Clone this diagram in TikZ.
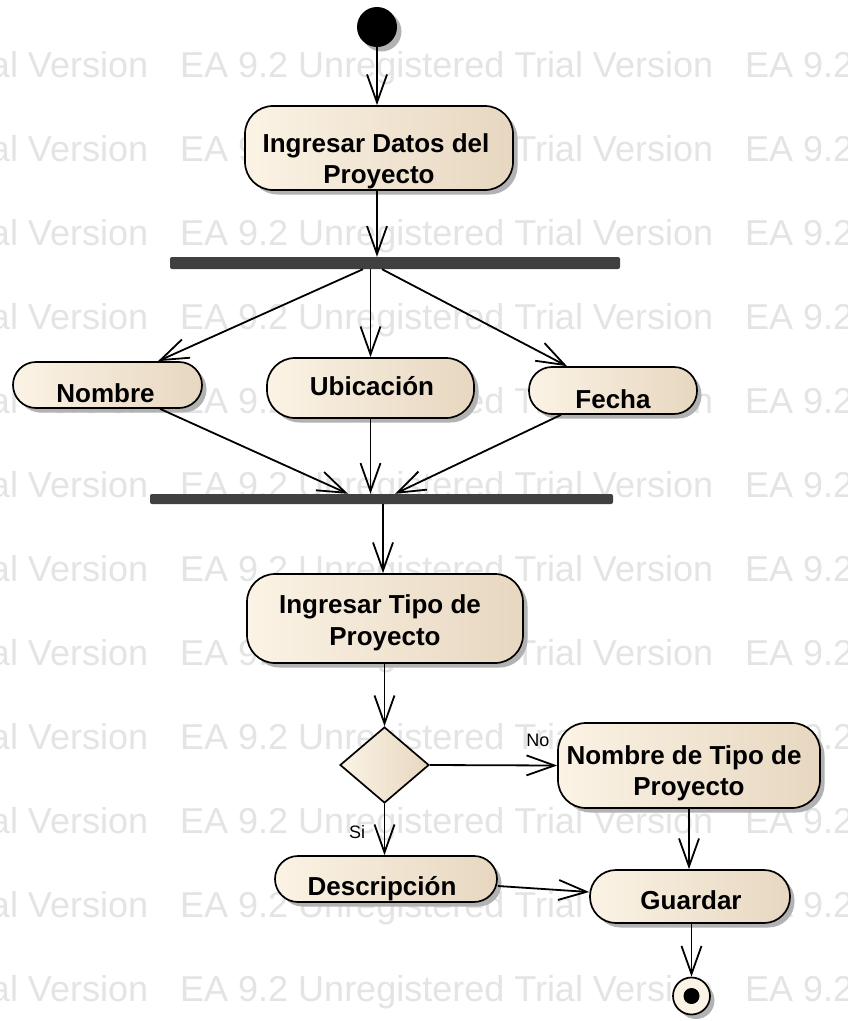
\documentclass[tikz,border=0pt]{standalone}
\usepackage{fontspec}
\setmainfont{Liberation Sans}
\usetikzlibrary{arrows.meta,shapes.geometric,shadows,calc}

\definecolor{wm}{RGB}{228,228,228}
\definecolor{eaL}{RGB}{251,243,229}
\definecolor{eaR}{RGB}{231,215,192}
\definecolor{barc}{RGB}{64,64,64}
\definecolor{shad}{RGB}{178,178,178}

\tikzset{
  eashadow/.style={drop shadow={shadow xshift=4.5pt, shadow yshift=-4.5pt, fill=shad, opacity=1}},
  act/.style={rectangle, draw=black, line width=1.7pt, left color=eaL, right color=eaR,
              inner sep=0pt, eashadow},
  bar/.style={rectangle, fill=barc, rounded corners=2pt, inner sep=0pt},
  lbl/.style={font=\fontsize{26}{31}\selectfont\bfseries, inner sep=0pt, anchor=base},
  guard/.style={font=\fontsize{18}{20}\selectfont, inner sep=0pt, anchor=base},
  wmtext/.style={font=\fontsize{36}{36}\selectfont, text=wm, inner sep=0pt, anchor=base west},
  flow/.style={line width=1.8pt, -{Straight Barb[length=28pt, width=20pt]}},
}

\begin{document}
\begin{tikzpicture}[x=1pt, y=-1pt]
\useasboundingbox (0,0) rectangle (848,1021);
\fill[white] (0,0) rectangle (848,1021);

% evaluation-edition watermark rows
\begin{scope}
  \clip (0,0) rectangle (848,1021);
  \foreach \r in {0,...,11} {
    \foreach \c in {0,1,2} {
      \node[wmtext] (wm-\r-\c) at (-385+565*\c, 77+84*\r) {EA 9.2 Unregistered Trial Version};
    }
  }
\end{scope}

% initial node
\node[circle, fill=black, minimum size=40pt, inner sep=0pt, eashadow] (start) at (377,27) {};

% actions
\node[act, rounded corners=28pt, minimum width=268pt, minimum height=84pt] (datos) at (379,148) {};
\node[lbl] (datos-a) at (376,152) {Ingresar Datos del};
\node[lbl] (datos-b) at (379,183) {Proyecto};

\node[bar, minimum width=450pt, minimum height=12pt] (fork) at (395,263) {};

\node[act, rounded corners=23pt, minimum width=189pt, minimum height=46pt] (nombre) at (107.5,385) {};
\node[lbl] (nombre-t) at (105.5,402) {Nombre};

\node[act, rounded corners=28pt, minimum width=207pt, minimum height=60pt] (ubic) at (370.5,388) {};
\node[lbl] (ubic-t) at (372,395) {Ubicación};

\node[act, rounded corners=23pt, minimum width=168pt, minimum height=47pt] (fecha) at (613,390.5) {};
\node[lbl] (fecha-t) at (613,408) {Fecha};

\node[bar, minimum width=463pt, minimum height=10pt] (join) at (381.5,499) {};

\node[act, rounded corners=28pt, minimum width=276pt, minimum height=89pt] (tipo) at (385,618.5) {};
\node[lbl] (tipo-a) at (380,613) {Ingresar Tipo de};
\node[lbl] (tipo-b) at (385,645) {Proyecto};

\node[diamond, draw=black, line width=1.7pt, left color=eaL, right color=eaR,
      minimum width=89pt, minimum height=76pt, inner sep=0pt] (dec) at (384.5,765) {};

\node[act, rounded corners=28pt, minimum width=262pt, minimum height=85pt] (nomtipo) at (689,765.5) {};
\node[lbl] (nomtipo-a) at (684,764) {Nombre de Tipo de};
\node[lbl] (nomtipo-b) at (689,795) {Proyecto};

\node[act, rounded corners=23pt, minimum width=222pt, minimum height=46pt] (desc) at (386,879) {};
\node[lbl] (desc-t) at (382,895) {Descripción};

\node[act, rounded corners=26pt, minimum width=200pt, minimum height=53pt] (guardar) at (690,896.5) {};
\node[lbl] (guardar-t) at (691,909) {Guardar};

% final node
\node[circle, draw=black, line width=1.7pt, fill=eaL, minimum size=37pt, inner sep=0pt, eashadow] (end) at (691.5,996) {};
\node[circle, fill=black, minimum size=16pt, inner sep=0pt] (enddot) at (end.center) {};

% control flows
\draw[flow] (start) -- (start |- datos.north);
\draw[flow] ([xshift=-2pt]datos.south) -- ([xshift=-2pt]datos.south |- fork.north);
\draw[flow] ([xshift=-32pt]fork.south) -- ([xshift=50.5pt]nombre.north);
\draw[flow] (fork.south -| ubic.north) -- (ubic.north);
\draw[flow] ([xshift=-13pt]fork.south) -- ([xshift=-46pt]fecha.north);
\draw[flow] ([xshift=52.5pt]nombre.south) -- ([xshift=-33.5pt]join.north);
\draw[flow] (ubic.south) -- (ubic.south |- join.north);
\draw[flow] ([xshift=-52pt]fecha.south) -- ([xshift=13.5pt]join.north);
\draw[flow] ([xshift=1.5pt]join.south) -- ([xshift=1.5pt]join.south |- tipo.north);
\draw[flow] (tipo.south -| dec.north) -- (dec.north);
\draw[flow] (dec.east) -- (nomtipo.west);
\node[guard] (g-no) at (538,746) {No};
\draw[flow] (dec.south) -- (dec.south |- desc.north);
\node[guard] (g-si) at (357,838) {Si};
\draw[flow] ([yshift=-7pt]desc.east) -- ([yshift=4.5pt]guardar.west);
\draw[flow] (nomtipo.south) -- (nomtipo.south |- guardar.north);
\draw[flow] (guardar.south -| end) -- (end);
\end{tikzpicture}
\end{document}
